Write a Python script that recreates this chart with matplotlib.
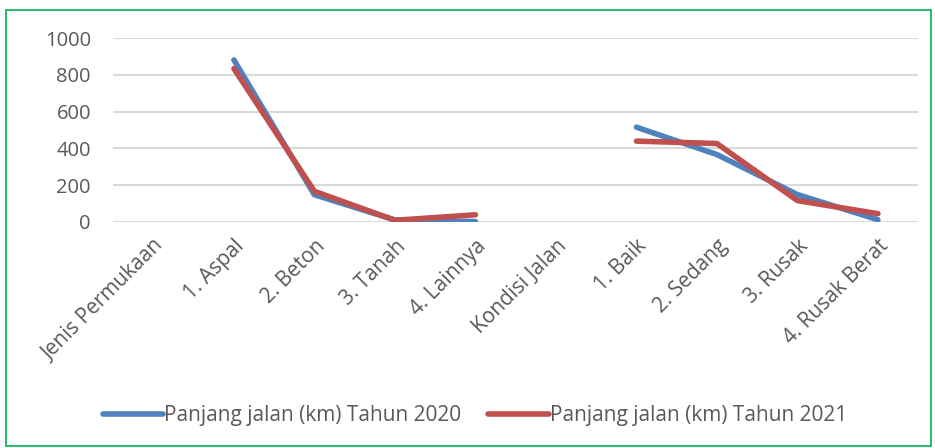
import numpy as np
import matplotlib.pyplot as plt
from matplotlib.patches import Rectangle

# Data: panjang jalan menurut jenis permukaan dan kondisi
kategori = ["Jenis Permukaan", "1. Aspal", "2. Beton", "3. Tanah", "4. Lainnya",
            "Kondisi Jalan", "1. Baik", "2. Sedang", "3. Rusak", "4. Rusak Berat"]
tahun_2020 = [np.nan, 881, 147, 10, 1, np.nan, 515, 366, 148, 11]
tahun_2021 = [np.nan, 834, 166, 8, 38, np.nan, 439, 426, 115, 44]
label_2020 = "Panjang jalan (km) Tahun 2020"
label_2021 = "Panjang jalan (km) Tahun 2021"

plt.rcParams['font.family'] = ['Open Sans', 'DejaVu Sans']
warna_teks = '#595959'

fig = plt.figure(figsize=(9.35, 4.48), dpi=100)
ax = fig.add_axes([0.121, 0.505, 0.861, 0.41])

x = np.arange(len(kategori))
ax.plot(x, tahun_2020, color='#4F81BD', lw=4, solid_capstyle='round',
        solid_joinstyle='round', label=label_2020)
ax.plot(x, tahun_2021, color='#C0504D', lw=4, solid_capstyle='round',
        solid_joinstyle='round', label=label_2021)

ax.set_xlim(-0.5, len(kategori) - 0.5)
ax.set_ylim(0, 1000)
ax.set_yticks(np.arange(0, 1001, 200))
ax.grid(axis='y', color='#D9D9D9', lw=1.5)
ax.set_axisbelow(True)
for s in ax.spines.values():
    s.set_visible(False)
ax.tick_params(length=0, colors=warna_teks, labelsize=14.5)
ax.tick_params(axis='y', pad=16)
ax.tick_params(axis='x', pad=10)
ax.set_xticks(x)
ax.set_xticklabels(kategori, rotation=45, ha='right', rotation_mode='anchor',
                   color=warna_teks, fontsize=15)

leg = fig.legend(loc='center', bbox_to_anchor=(0.508, 0.072), ncol=2, frameon=False,
                 fontsize=15, handlelength=2.9, handletextpad=0.05, columnspacing=1.3)
for t in leg.get_texts():
    t.set_color(warna_teks)

# Bingkai hijau di sekeliling grafik
fig.patches.append(Rectangle((0.006, 0.005), 0.99, 0.972, transform=fig.transFigure,
                             fill=False, edgecolor='#00B050', lw=1.2))

fig.savefig('out.png', dpi=100)
